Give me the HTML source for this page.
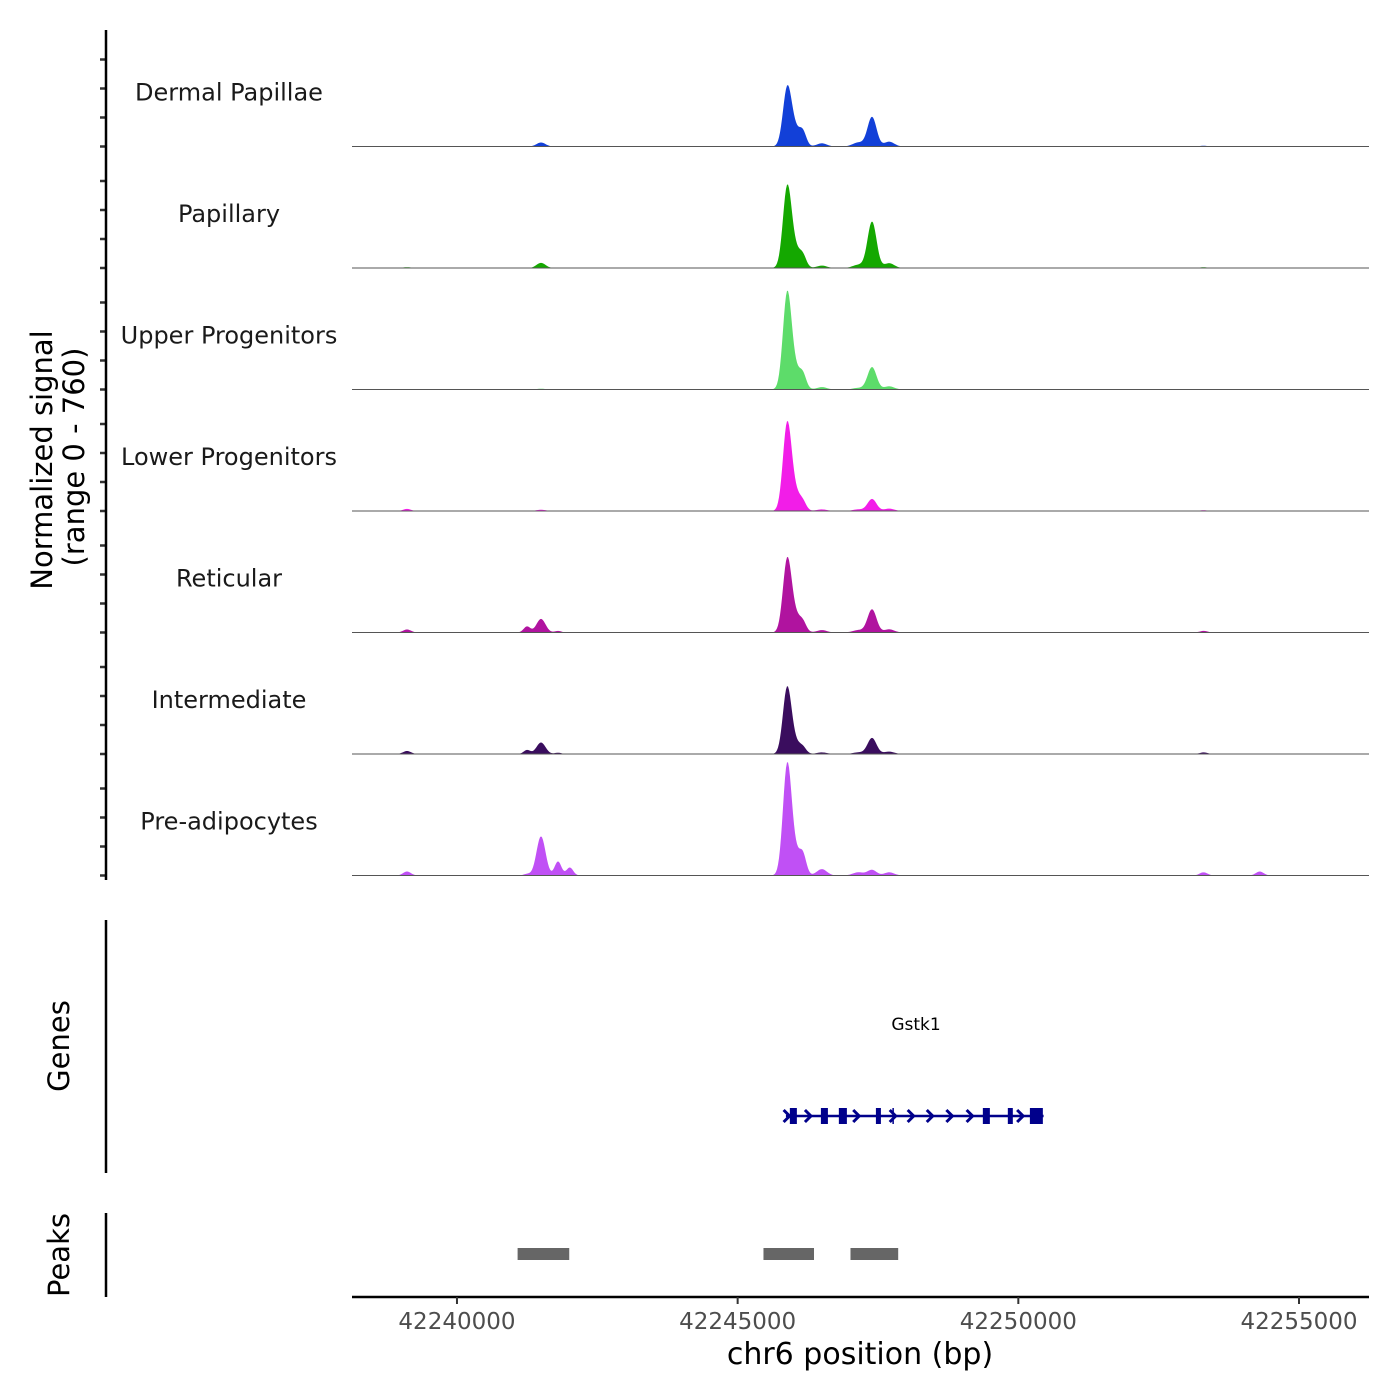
<!DOCTYPE html>
<html><head><meta charset="utf-8"><style>
body{margin:0;background:#fff}
svg{display:block;font-family:"DejaVu Sans","Liberation Sans",sans-serif}
</style></head><body>
<svg id="chart" width="1400" height="1400" viewBox="0 0 1400 1400" xmlns="http://www.w3.org/2000/svg">
<rect width="1400" height="1400" fill="#fff"/>
<g id="tracks"></g>
<g id="axes"></g>
<text transform="translate(52,460) rotate(-90)" text-anchor="middle" font-size="29" fill="#000">Normalized signal</text>
<text transform="translate(84,457) rotate(-90)" text-anchor="middle" font-size="29" fill="#000">(range 0 - 760)</text>
<text transform="translate(69,1046) rotate(-90)" text-anchor="middle" font-size="29" fill="#000">Genes</text>
<text transform="translate(69,1255) rotate(-90)" text-anchor="middle" font-size="29" fill="#000">Peaks</text>
<text x="860" y="1364" text-anchor="middle" font-size="30" fill="#000">chr6 position (bp)</text>
<text x="916" y="1030" text-anchor="middle" font-size="17" fill="#000">Gstk1</text>
</svg>
<script>
const trackNames = ["Dermal Papillae","Papillary","Upper Progenitors","Lower Progenitors","Reticular","Intermediate","Pre-adipocytes"];
const trackColors = ["#1240d8","#14a800","#5ddc6a","#f21de8","#b0139f","#3a0d5e","#c050f5"];
const peakCenters = [42239110,42241248,42241497,42241800,42242010,42245880,42246000,42246165,42246500,42247150,42247394,42247700,42253300,42254300];
const peakValues = [
 [0,0,25,0,0,315,120,70,20,25,185,30,5,0],
 [5,0,32,0,0,450,130,55,15,20,290,30,5,0],
 [0,0,5,0,0,540,140,70,15,10,140,20,0,0],
 [13,0,8,0,0,490,130,35,10,10,75,15,5,0],
 [19,38,85,10,0,405,120,45,15,15,145,20,10,0],
 [19,25,72,8,0,380,80,28,10,10,100,15,10,0],
 [25,10,245,88,50,620,160,100,40,20,35,20,20,25]
];
const peakWidths = [70,60,80,60,60,75,110,60,90,100,80,90,70,70];
const geneExons = [[42245930,42246055],[42246483,42246608],[42246803,42246946],[42247463,42247552],[42249368,42249493],[42249813,42249902],[42250206,42250437]];
const geneRange = [42245860,42250450];
const geneArrows = [42245890,42246270,42247130,42247780,42248100,42248440,42248790,42249150,42250050];
const geneMarks = [42247770];
const peakRegions = [[42241080,42242000],[42245460,42246360],[42247010,42247860]];
const xTicks = [42240000,42245000,42250000,42255000];
const yMax = 760;

const NS="http://www.w3.org/2000/svg";
const X0=352,X1=1369,B0=42238130,B1=42256247;
const xs=bp=>X0+(bp-B0)/(B1-B0)*(X1-X0);
const trackH=121.5, firstBase=146.5;
function el(tag,attrs,parent){const e=document.createElementNS(NS,tag);for(const k in attrs)e.setAttribute(k,attrs[k]);parent.appendChild(e);return e;}
const tg=document.getElementById('tracks'), ag=document.getElementById('axes');

trackNames.forEach((name,t)=>{
  const base=firstBase+t*trackH;
  const ys=v=>base-v/yMax*trackH;
  let d=`M${X0},${base}`;
  for(let px=X0;px<=X1;px+=1){
    const bp=B0+(px-X0)/(X1-X0)*(B1-B0);
    let v=0;
    peakCenters.forEach((c,i)=>{const s=peakWidths[i];v+=peakValues[t][i]*Math.exp(-0.5*((bp-c)/s)**2);});
    d+=`L${px},${ys(v).toFixed(2)}`;
  }
  d+=`L${X1},${base}Z`;
  const p=el('path',{d,fill:trackColors[t]},tg);
  
  
  const bl=el('line',{x1:X0,x2:X1,y1:base,y2:base,stroke:'#555','stroke-width':1},tg);
  
  
  const lb=el('text',{x:229,y:base-46,'text-anchor':'middle','font-size':24,fill:'#1a1a1a'},tg);
  lb.textContent=name;
  
  
  for(let k=0;k<4;k++){
    const tk=el('line',{x1:100,x2:106,y1:base-k*29,y2:base-k*29,stroke:'#333','stroke-width':2.5},ag);
    
    
  }
});
[[30,880],[920,1173],[1213,1297]].forEach(([a,b])=>{
  const l=el('line',{x1:106,x2:106,y1:a,y2:b,stroke:'#000','stroke-width':2.5},ag);
  
  
});
const gy=1116;
const gl=el('line',{x1:xs(geneRange[0]),x2:xs(geneRange[1]),y1:gy,y2:gy,stroke:'#00008b','stroke-width':2.5},tg);


geneExons.forEach(([a,b])=>{
  const r=el('rect',{x:xs(a),y:gy-8,width:Math.max(3,xs(b)-xs(a)),height:16,fill:'#00008b'},tg);
  
  
});
geneMarks.forEach(c=>{
  const m=el('line',{x1:xs(c),x2:xs(c),y1:gy-8,y2:gy+8,stroke:'#00008b','stroke-width':1.5},tg);
  
  
});
geneArrows.forEach(c=>{
  const x=xs(c);
  const a=el('path',{d:`M${x-4},${gy-6}L${x+2},${gy}L${x-4},${gy+6}`,fill:'none',stroke:'#00008b','stroke-width':3},tg);
  
  
});
peakRegions.forEach(([a,b])=>{
  const r=el('rect',{x:xs(a),y:1248,width:xs(b)-xs(a),height:12,fill:'#666'},tg);
  
  
});
const xl=el('line',{x1:X0,x2:X1,y1:1297,y2:1297,stroke:'#000','stroke-width':2.5},ag);


xTicks.forEach(v=>{
  const tk=el('line',{x1:xs(v),x2:xs(v),y1:1297,y2:1304,stroke:'#333','stroke-width':2},ag);
  
  
  const t=el('text',{x:xs(v),y:1329,'text-anchor':'middle','font-size':23,fill:'#4d4d4d'},ag);
  t.textContent=v;
  
  
});
</script>
</body></html>
